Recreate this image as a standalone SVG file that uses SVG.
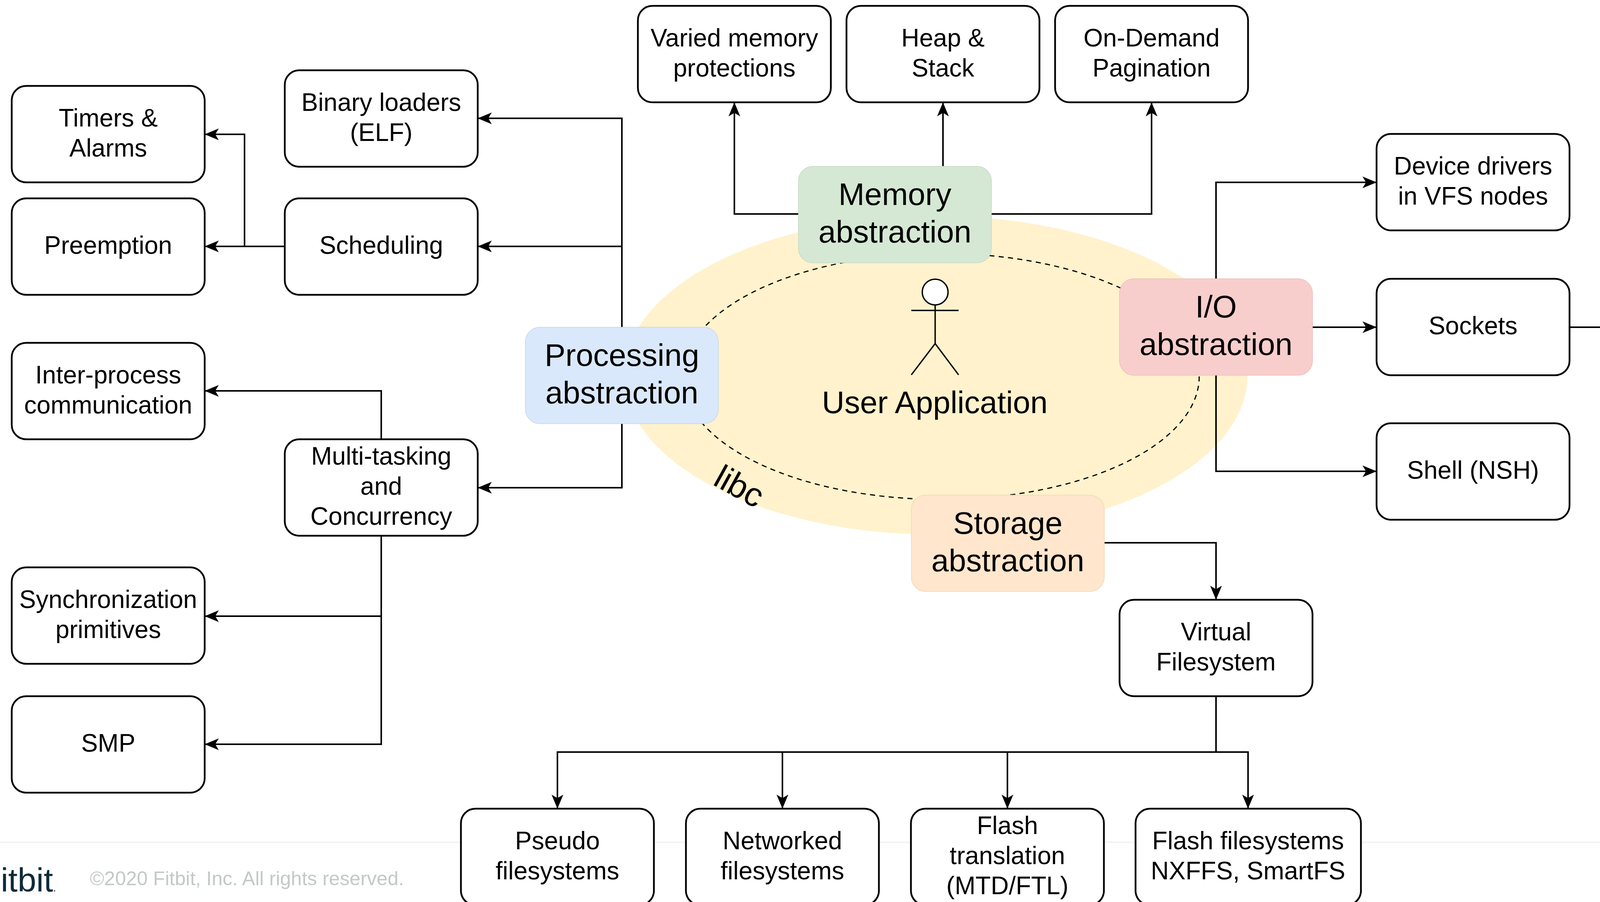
<svg xmlns="http://www.w3.org/2000/svg" width="4667" height="2310" viewBox="0 0 4667 2310">
<style>
.box{fill:#fff;stroke:#000;stroke-width:4.5}
.abs{stroke-width:1.5}
.t{font-family:"Liberation Sans",Arial,Helvetica,sans-serif;font-size:64px;text-anchor:middle;fill:#000}
.b{font-size:80px}
.conn{fill:none;stroke:#000;stroke-width:4;marker-end:url(#arr)}
</style>
<defs>
<marker id="arr" markerUnits="userSpaceOnUse" markerWidth="36" markerHeight="30" refX="36" refY="15" orient="auto" viewBox="0 0 36 30">
<path d="M0,0 L36,15 L0,30 L9,15 Z" fill="#000"/>
</marker>
</defs>
<rect x="0" y="0" width="4667" height="2310" fill="#fff"/>
<line x1="0" y1="2157" x2="4667" y2="2157" stroke="#f0f0f0" stroke-width="3"/>
<g id="footer">
<text x="2" y="2283" font-family="Liberation Sans,Arial,sans-serif" font-size="86" fill="#0f2b3a">itbit<tspan font-size="28">.</tspan></text>
<text x="230" y="2267" font-family="Liberation Sans,Arial,sans-serif" font-size="50" fill="#c2c9c9">©2020 Fitbit, Inc. All rights reserved.</text>
</g>
<g id="userapp">
<ellipse cx="2396" cy="961" rx="798" ry="408" fill="#fff2cc"/>
<ellipse cx="2409" cy="964" rx="661" ry="315" fill="none" stroke="#000" stroke-width="3" stroke-dasharray="13 11"/>
<g fill="none" stroke="#000" stroke-width="3.5">
<circle cx="2394" cy="748" r="33" fill="#fff"/>
<path d="M2394,781 V880 M2333,795 H2454 M2333,960 L2394,880 L2454,960"/>
</g>
<text class="t b" x="2393" y="1058">User Application</text>
<text class="t" font-size="86" style="font-size:86px" transform="translate(1893,1245) rotate(29)" x="0" y="30">libc</text>
</g>
<g id="connectors">
<path class="conn" d="M1592,838 V303 H1223"/>
<path class="conn" d="M1592,838 V631 H1223"/>
<path class="conn" d="M1592,1085 V1249 H1223"/>
<path class="conn" d="M729,631 H524"/>
<path class="conn" d="M729,631 H626 V344 H524"/>
<path class="conn" d="M976,1125 V1001 H524"/>
<path class="conn" d="M976,1372 V1578 H524"/>
<path class="conn" d="M976,1372 V1906 H524"/>
<path class="conn" d="M2044,548 H1880 V262"/>
<path class="conn" d="M2414,426 V262"/>
<path class="conn" d="M2538,548 H2948 V262"/>
<path class="conn" d="M3113,714 V467 H3524"/>
<path class="conn" d="M3360,838 H3524"/>
<path class="conn" d="M3113,961 V1207 H3524"/>
<path class="conn" d="M4018,838 H4140"/>
<path class="conn" d="M2827,1390 H3113 V1536"/>
<path class="conn" d="M3113,1783 V1926 H1427 V2071"/>
<path class="conn" d="M3113,1783 V1926 H2003 V2071"/>
<path class="conn" d="M3113,1783 V1926 H2579 V2071"/>
<path class="conn" d="M3113,1783 V1926 H3195 V2071"/>
</g>
<g id="timers"><rect class="box" x="30" y="220" width="494" height="247" rx="37"/><text class="t" x="277" y="324">Timers &amp;</text><text class="t" x="277" y="401">Alarms</text></g>
<g id="preemption"><rect class="box" x="30" y="508" width="494" height="247" rx="37"/><text class="t" x="277" y="650">Preemption</text></g>
<g id="binary"><rect class="box" x="729" y="180" width="494" height="247" rx="37"/><text class="t" x="976" y="284">Binary loaders</text><text class="t" x="976" y="361">(ELF)</text></g>
<g id="scheduling"><rect class="box" x="729" y="508" width="494" height="247" rx="37"/><text class="t" x="976" y="650">Scheduling</text></g>
<g id="ipc"><rect class="box" x="30" y="878" width="494" height="247" rx="37"/><text class="t" x="277" y="982">Inter-process</text><text class="t" x="277" y="1059">communication</text></g>
<g id="multitasking"><rect class="box" x="729" y="1125" width="494" height="247" rx="37"/><text class="t" x="976" y="1190">Multi-tasking</text><text class="t" x="976" y="1267">and</text><text class="t" x="976" y="1344">Concurrency</text></g>
<g id="sync"><rect class="box" x="30" y="1453" width="494" height="247" rx="37"/><text class="t" x="277" y="1557">Synchronization</text><text class="t" x="277" y="1634">primitives</text></g>
<g id="smp"><rect class="box" x="30" y="1783" width="494" height="247" rx="37"/><text class="t" x="277" y="1925">SMP</text></g>
<g id="processing"><rect class="box abs" x="1345" y="838" width="494" height="247" rx="37" style="fill:#dae8fc;stroke:#c5d4e8"/><text class="t b" x="1592" y="937">Processing</text><text class="t b" x="1592" y="1033">abstraction</text></g>
<g id="varied"><rect class="box" x="1633" y="15" width="494" height="247" rx="37"/><text class="t" x="1880" y="119">Varied memory</text><text class="t" x="1880" y="196">protections</text></g>
<g id="heap"><rect class="box" x="2167" y="15" width="494" height="247" rx="37"/><text class="t" x="2414" y="119">Heap &amp;</text><text class="t" x="2414" y="196">Stack</text></g>
<g id="ondemand"><rect class="box" x="2701" y="15" width="494" height="247" rx="37"/><text class="t" x="2948" y="119">On-Demand</text><text class="t" x="2948" y="196">Pagination</text></g>
<g id="memory"><rect class="box abs" x="2044" y="426" width="494" height="247" rx="37" style="fill:#d5e8d4;stroke:#c3d8c2"/><text class="t b" x="2291" y="525">Memory</text><text class="t b" x="2291" y="621">abstraction</text></g>
<g id="io"><rect class="box abs" x="2866" y="714" width="494" height="247" rx="37" style="fill:#f8cecc;stroke:#e8bcba"/><text class="t b" x="3113" y="813">I/O</text><text class="t b" x="3113" y="909">abstraction</text></g>
<g id="device"><rect class="box" x="3524" y="343" width="494" height="247" rx="37"/><text class="t" x="3771" y="447">Device drivers</text><text class="t" x="3771" y="524">in VFS nodes</text></g>
<g id="sockets"><rect class="box" x="3524" y="714" width="494" height="247" rx="37"/><text class="t" x="3771" y="856">Sockets</text></g>
<g id="comm"><rect class="box" x="4140" y="631" width="494" height="411" rx="62"/><text class="t" x="4387" y="778">Communication</text><text class="t" x="4387" y="855">Stacks (TCP/IP,</text><text class="t" x="4387" y="932">6lowpan, etc.)</text></g>
<g id="shell"><rect class="box" x="3524" y="1084" width="494" height="247" rx="37"/><text class="t" x="3771" y="1226">Shell (NSH)</text></g>
<g id="storage"><rect class="box abs" x="2333" y="1268" width="494" height="247" rx="37" style="fill:#ffe6cc;stroke:#f0d6bb"/><text class="t b" x="2580" y="1367">Storage</text><text class="t b" x="2580" y="1463">abstraction</text></g>
<g id="vfs"><rect class="box" x="2866" y="1536" width="494" height="247" rx="37"/><text class="t" x="3113" y="1640">Virtual</text><text class="t" x="3113" y="1717">Filesystem</text></g>
<g id="pseudo"><rect class="box" x="1180" y="2071" width="494" height="247" rx="37"/><text class="t" x="1427" y="2175">Pseudo</text><text class="t" x="1427" y="2252">filesystems</text></g>
<g id="networked"><rect class="box" x="1756" y="2071" width="494" height="247" rx="37"/><text class="t" x="2003" y="2175">Networked</text><text class="t" x="2003" y="2252">filesystems</text></g>
<g id="flashtr"><rect class="box" x="2332" y="2071" width="494" height="247" rx="37"/><text class="t" x="2579" y="2136">Flash</text><text class="t" x="2579" y="2213">translation</text><text class="t" x="2579" y="2290">(MTD/FTL)</text></g>
<g id="flashfs"><rect class="box" x="2907" y="2071" width="577" height="247" rx="37"/><text class="t" x="3195" y="2175">Flash filesystems</text><text class="t" x="3195" y="2252">NXFFS, SmartFS</text></g>
</svg>
